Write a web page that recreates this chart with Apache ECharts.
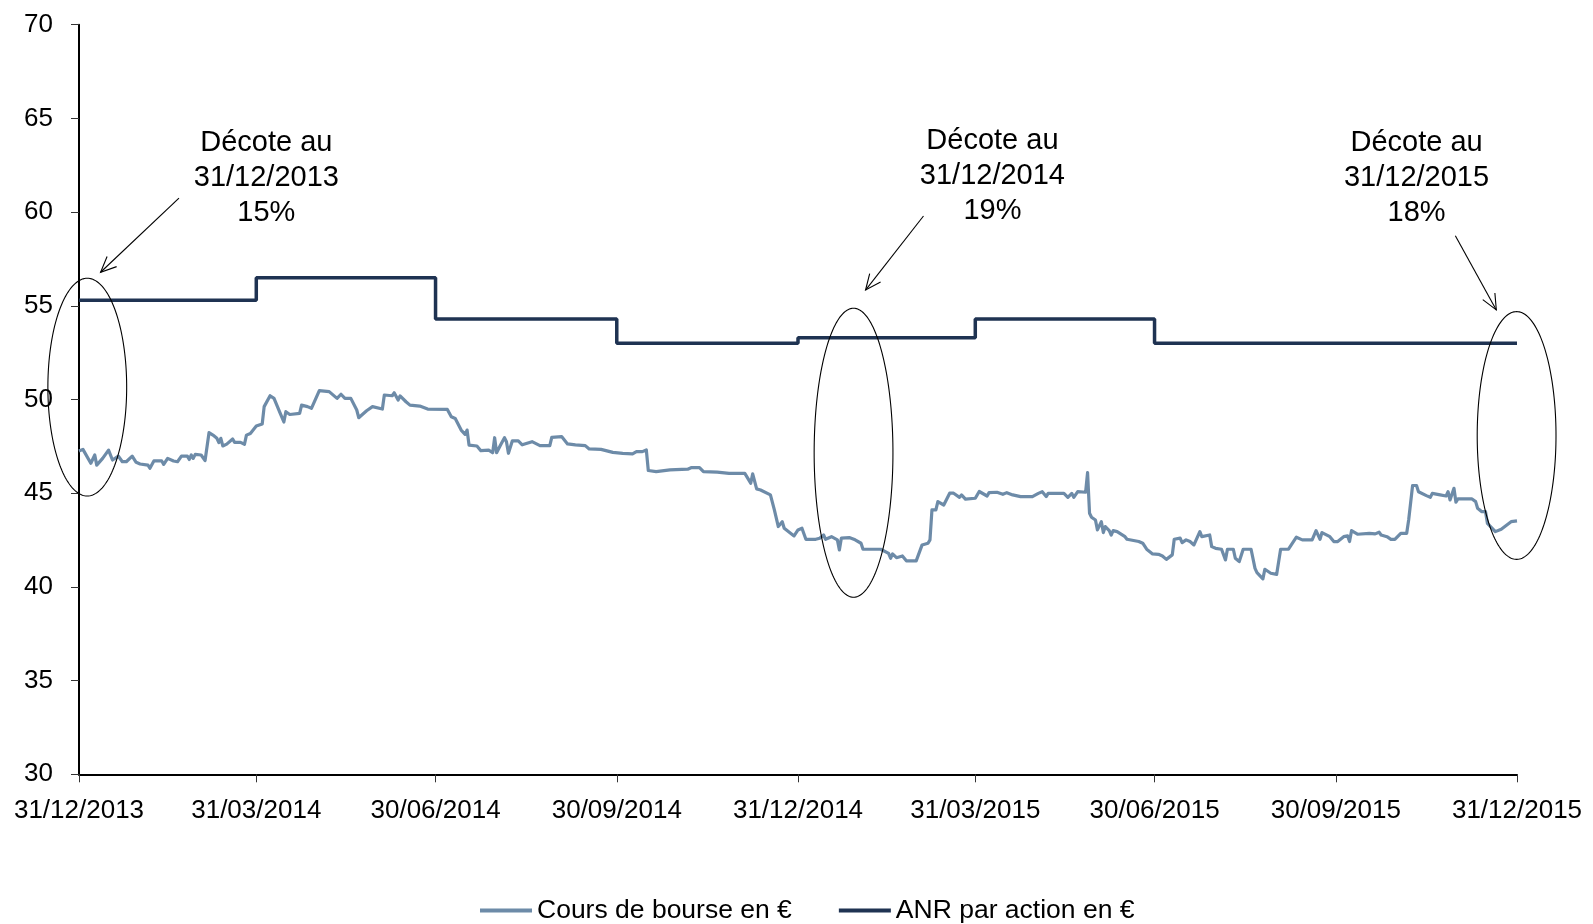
<!DOCTYPE html>
<html>
<head>
<meta charset="utf-8">
<script src="https://cdn.jsdelivr.net/npm/echarts@6/dist/echarts.min.js"></script>
<style>
html,body{margin:0;padding:0;background:#fff;}
#chart{width:1593px;height:924px;}
</style>
</head>
<body>
<div id="chart"></div>
<script>
// ---------- DATA ----------
const baseDate = '2013-12-31';           // day 0 of the stock series
// Stock price: trading-day offsets (days after 31/12/2013) and prices in €
const stockDay = [
  0,2,6,8,9,12,15,17,20,22,
  24,27,29,31,35,36,38,42,43,45,
  48,50,52,55,56,57,58,59,62,64,
  66,68,70,71,72,73,75,78,79,82,
  84,85,87,90,93,94,97,99,102,104,
  105,107,112,113,116,118,122,127,131,133,
  135,138,141,142,146,149,154,155,159,160,
  162,163,166,168,173,177,187,189,191,194,
  196,197,198,202,204,208,210,211,212,214,
  216,217,218,220,223,225,230,234,239,240,
  245,248,252,257,259,265,271,276,281,283,
  286,288,289,293,300,309,311,315,317,324,
  330,338,340,341,342,344,346,351,353,355,
  357,358,363,365,367,369,374,376,378,379,
  382,383,385,386,387,391,394,397,398,407,
  411,412,413,415,418,420,425,428,429,431,
  432,433,435,436,439,442,444,447,448,450,
  455,457,461,462,466,469,471,474,478,484,
  487,489,491,492,500,502,504,505,507,511,
  512,513,514,516,517,519,520,521,523,524,
  525,527,531,532,538,540,542,545,548,550,
  552,555,556,559,560,562,564,566,567,569,
  570,574,575,577,580,582,583,586,587,589,
  591,595,597,598,601,602,605,608,610,614,
  616,618,621,626,628,630,631,635,637,639,
  642,644,645,646,649,655,658,660,661,664,
  666,668,671,674,675,677,679,680,684,686,
  687,691,694,695,696,698,699,700,707,709,
  710,712,714,715,719,722,727,730
];
const stockValue = [
  47.25,47.34,46.60,47.04,46.50,46.86,47.30,46.77,46.98,46.68,
  46.68,46.98,46.65,46.56,46.50,46.33,46.72,46.72,46.54,46.86,
  46.72,46.68,46.98,46.98,46.80,47.04,46.86,47.07,47.04,46.74,
  48.23,48.10,47.93,47.70,47.93,47.52,47.62,47.89,47.71,47.71,
  47.61,48.10,48.19,48.58,48.69,49.62,50.20,50.06,49.30,48.80,
  49.35,49.20,49.26,49.70,49.62,49.53,50.47,50.42,50.06,50.28,
  50.06,50.06,49.44,49.03,49.40,49.62,49.49,50.24,50.20,50.36,
  49.97,50.19,49.88,49.70,49.65,49.49,49.47,49.08,48.99,48.37,
  48.14,48.37,47.57,47.52,47.27,47.30,47.16,47.96,47.16,47.57,
  47.96,47.75,47.13,47.80,47.79,47.58,47.75,47.54,47.54,47.98,
  48.02,47.63,47.58,47.54,47.36,47.34,47.18,47.13,47.10,47.22,
  47.22,47.31,46.21,46.15,46.24,46.28,46.37,46.37,46.15,46.12,
  46.06,46.06,45.71,45.53,46.03,45.23,45.17,44.91,44.11,43.22,
  43.48,43.13,42.72,43.04,43.13,42.54,42.54,42.60,42.77,42.54,
  42.68,42.72,42.51,41.97,42.60,42.63,42.51,42.33,42.01,42.01,
  41.79,41.53,41.76,41.56,41.65,41.39,41.39,42.24,42.33,42.33,
  42.51,44.11,44.11,44.55,44.37,45.00,45.00,44.78,44.91,44.68,
  44.73,45.09,44.85,45.03,45.05,44.94,45.03,44.91,44.82,44.82,
  44.99,45.08,44.82,44.99,44.99,44.78,44.99,44.78,45.08,45.05,
  46.10,43.93,43.72,43.57,43.04,43.48,42.90,43.22,43.00,42.77,
  43.00,42.95,42.68,42.54,42.42,42.33,42.01,41.76,41.74,41.65,
  41.47,41.71,42.54,42.60,42.36,42.51,42.42,42.24,42.27,42.95,
  42.68,42.77,42.15,42.06,42.01,41.44,42.01,42.01,41.53,41.35,
  42.01,42.01,40.99,40.76,40.43,40.94,40.73,40.67,42.01,42.01,
  42.33,42.65,42.51,42.51,43.00,42.54,42.90,42.68,42.42,42.42,
  42.68,42.72,42.42,43.00,42.81,42.86,42.83,42.92,42.77,42.68,
  42.54,42.54,42.86,42.86,43.57,45.41,45.41,45.08,44.87,44.78,
  44.99,44.91,44.85,45.08,44.64,45.26,44.52,44.70,44.70,44.55,
  44.20,44.02,44.02,43.39,42.95,43.08,43.48,43.52
];
// NAV per share (step line, changes at each quarter end)
const anrDate  = ['2013-12-31','2014-03-31','2014-06-30','2014-09-30','2014-12-31','2015-03-31','2015-06-30','2015-12-31'];
const anrValue = [55.3, 56.5, 54.3, 53.0, 53.3, 54.3, 53.0, 53.0];
// x-axis tick dates and y-axis range
const xTickDates = ['2013-12-31','2014-03-31','2014-06-30','2014-09-30','2014-12-31','2015-03-31','2015-06-30','2015-09-30','2015-12-31'];
const yMin = 30, yMax = 70, yStep = 5;
const seriesNames = ['Cours de bourse en €', 'ANR par action en €'];
// Annotations (in data space: day offset & value)
const noteTexts = ['Décote au\n31/12/2013\n15%', 'Décote au\n31/12/2014\n19%', 'Décote au\n31/12/2015\n18%'];
const noteAnchor = [[95.1, 61.83], [463.7, 61.9], [679.0, 61.84]];
const arrowFrom  = [[50.75, 60.75], [428.7, 59.79], [698.7, 58.74]];
const arrowTo    = [[10.96, 56.79], [399.3, 55.84], [719.5, 54.78]];
const ellipseCenter = [[4.2, 50.66], [393.2, 47.16], [729.8, 48.08]];
const ellipseRadius = [[20, 5.81], [20, 7.71], [20, 6.61]];

// ---------- HELPERS ----------
const DAY = 86400000;
function parseDate(s){ const p = s.split('-').map(Number); return Date.UTC(p[0], p[1]-1, p[2]); }
const t0 = parseDate(baseDate);
function dayToTime(d){ return t0 + d * DAY; }
function fmt(v){
  const d = new Date(v);
  const dd = String(d.getUTCDate()).padStart(2,'0');
  const mm = String(d.getUTCMonth()+1).padStart(2,'0');
  return dd + '/' + mm + '/' + d.getUTCFullYear();
}

const n = Math.min(stockDay.length, stockValue.length);
const stockData = [];
for (let i = 0; i < n; i++) stockData.push([dayToTime(stockDay[i]), stockValue[i]]);
const anrData = anrDate.map((d, i) => [parseDate(d), anrValue[i]]);
const tickTimes = xTickDates.map(parseDate);

const FONT = 'Liberation Sans, Arial, sans-serif';
const STOCK_COLOR = '#6d8ba8', ANR_COLOR = '#1f3352';
const chart = echarts.init(document.getElementById('chart'), null, {renderer: 'canvas'});

chart.setOption({
  backgroundColor: '#ffffff',
  animation: false,
  textStyle: {fontFamily: FONT},
  grid: {left: 79, right: 76, top: 24.7, bottom: 149.7, containLabel: false},
  legend: {
    left: 475, top: 892,
    itemWidth: 52, itemHeight: 4, itemGap: 47,
    textStyle: {fontSize: 26.5, color: '#000', fontFamily: FONT},
    data: [
      {name: seriesNames[0], icon: 'rect', itemStyle: {color: STOCK_COLOR}},
      {name: seriesNames[1], icon: 'rect', itemStyle: {color: ANR_COLOR}}
    ]
  },
  xAxis: {
    type: 'value',
    min: tickTimes[0], max: tickTimes[tickTimes.length-1],
    splitLine: {show: false},
    axisLine: {show: true, lineStyle: {color: '#000', width: 2}},
    axisTick: {show: true, customValues: tickTimes, length: 8, lineStyle: {color: '#333', width: 1}},
    axisLabel: {customValues: tickTimes, formatter: fmt, fontSize: 26, color: '#000', margin: 24, fontFamily: FONT, hideOverlap: false}
  },
  yAxis: {
    type: 'value', min: yMin, max: yMax, interval: yStep,
    splitLine: {show: false},
    axisLine: {show: true, lineStyle: {color: '#000', width: 2}},
    axisTick: {show: true, length: 8, lineStyle: {color: '#333', width: 1}},
    axisLabel: {fontSize: 26, color: '#000', margin: 26, fontFamily: FONT}
  },
  series: [
    {
      name: seriesNames[0], type: 'line', data: stockData,
      symbol: 'none', showSymbol: false,
      lineStyle: {color: STOCK_COLOR, width: 3.2, join: 'round'},
      itemStyle: {color: STOCK_COLOR}, z: 3
    },
    {
      name: seriesNames[1], type: 'line', data: anrData, step: 'end',
      symbol: 'none', showSymbol: false,
      lineStyle: {color: ANR_COLOR, width: 3.5},
      itemStyle: {color: ANR_COLOR}, z: 4
    }
  ]
});

// ---------- ANNOTATIONS (positioned from data coordinates) ----------
function px(d, v){ return chart.convertToPixel({xAxisIndex: 0, yAxisIndex: 0}, [dayToTime(d), v]); }
const g = [];
for (let i = 0; i < noteTexts.length; i++) {
  const c = px(noteAnchor[i][0], noteAnchor[i][1]);
  g.push({type: 'text', silent: true, z: 10, x: c[0], y: c[1],
    style: {text: noteTexts[i], fill: '#000', font: '29px ' + FONT, align: 'center', verticalAlign: 'middle', lineHeight: 35}});
  const a = px(arrowFrom[i][0], arrowFrom[i][1]);
  const b = px(arrowTo[i][0], arrowTo[i][1]);
  g.push({type: 'line', silent: true, z: 10, shape: {x1: a[0], y1: a[1], x2: b[0], y2: b[1]}, style: {stroke: '#000', lineWidth: 1.1}});
  const ang = Math.atan2(a[1]-b[1], a[0]-b[0]);
  const L = 17, spread = 0.42;
  g.push({type: 'polyline', silent: true, z: 10, shape: {points: [
    [b[0] + L*Math.cos(ang+spread), b[1] + L*Math.sin(ang+spread)],
    [b[0], b[1]],
    [b[0] + L*Math.cos(ang-spread), b[1] + L*Math.sin(ang-spread)]
  ]}, style: {stroke: '#000', lineWidth: 1.1, fill: null}});
  const ec = px(ellipseCenter[i][0], ellipseCenter[i][1]);
  const ex = px(ellipseCenter[i][0] + ellipseRadius[i][0], ellipseCenter[i][1] + ellipseRadius[i][1]);
  const rx = Math.abs(ex[0]-ec[0]), ry = Math.abs(ec[1]-ex[1]);
  const pts = [];
  for (let k = 0; k < 180; k++) { const th = k/180*Math.PI*2; pts.push([ec[0] + rx*Math.cos(th), ec[1] + ry*Math.sin(th)]); }
  g.push({type: 'polygon', silent: true, z: 10, shape: {points: pts}, style: {stroke: '#000', lineWidth: 1.1, fill: null}});
}
chart.setOption({graphic: g});
</script>
</body>
</html>
